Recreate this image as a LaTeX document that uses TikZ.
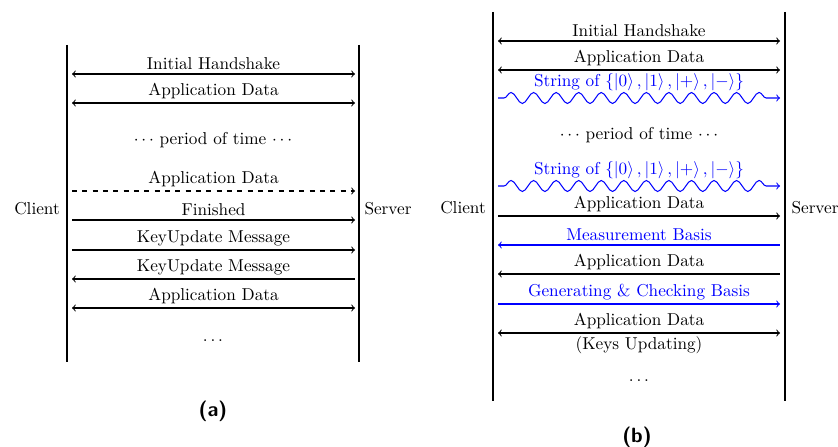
\documentclass[tikz,border=0pt]{standalone}
\usetikzlibrary{decorations.pathmorphing}
\begin{document}
\begin{tikzpicture}[x=0.581pt,y=-0.581pt,
  life/.style={line width=0.9pt},
  msg/.style={line width=0.6pt},
  qmsg/.style={line width=0.6pt,blue,decorate,decoration={snake,amplitude=3.2pt,segment length=13.1pt,pre length=3.5pt,post length=6.3pt}},
  lbl/.style={font=\normalsize,inner sep=2pt},
  captxt/.style={font=\fontsize{12}{14}\selectfont\sffamily\bfseries}]
\useasboundingbox (0,0) rectangle (838,447);
% ---------- panel (a) ----------
\coordinate (aLt) at (67,45); \coordinate (aLb) at (67,362);
\coordinate (aRt) at (359,45); \coordinate (aRb) at (359,362);
\draw[life] (aLt) -- (aLb);
\draw[life] (aRt) -- (aRb);
\node (aclient) at (37,209) {Client};
\node (aserver) at (388,209) {Server};
\foreach \n/\y in {1/74,2/103,3/191,4/220,5/250,6/279,7/308}{
  \coordinate (al\n) at (72,\y); \coordinate (ar\n) at (355,\y);}
\draw[msg,<->] (al1) -- node[lbl,above] (ta1) {Initial Handshake} (ar1);
\draw[msg,<->] (al2) -- node[lbl,above] (ta2) {Application Data} (ar2);
\node (ta0) at (213,140) {$\cdots$ period of time $\cdots$};
\draw[msg,->,dashed] (al3) -- node[lbl,above] (ta3) {Application Data} (ar3);
\draw[msg,->] (al4) -- node[lbl,above] (ta4) {Finished} (ar4);
\draw[msg,->] (al5) -- node[lbl,above] (ta5) {KeyUpdate Message} (ar5);
\draw[msg,<-] (al6) -- node[lbl,above] (ta6) {KeyUpdate Message} (ar6);
\draw[msg,<->] (al7) -- node[lbl,above] (ta7) {Application Data} (ar7);
\node (tadots) at (213,341) {$\dots$};
\node[captxt] (capa) at (213,411) {(a)};
% ---------- panel (b) ----------
\coordinate (bLt) at (493,12); \coordinate (bLb) at (493,401);
\coordinate (bRt) at (785,12); \coordinate (bRb) at (785,401);
\draw[life] (bLt) -- (bLb);
\draw[life] (bRt) -- (bRb);
\node (bclient) at (463,208) {Client};
\node (bserver) at (815,208) {Server};
\foreach \n/\y in {1/41,2/70,3/98,4/186,5/216,6/245,7/274,8/304,9/333}{
  \coordinate (bl\n) at (498,\y); \coordinate (br\n) at (780,\y);}
\draw[msg,<->] (bl1) -- node[lbl,above] (tb1) {Initial Handshake} (br1);
\draw[msg,<->] (bl2) -- node[lbl,above] (tb2) {Application Data} (br2);
\draw[qmsg,->] (bl3) -- (br3);
\node[lbl,blue,anchor=south] (tb3) at (639,95) {String of $\{\left|0\right\rangle,\left|1\right\rangle,\left|+\right\rangle,\left|-\right\rangle\}$};
\node (tb0) at (639,135) {$\cdots$ period of time $\cdots$};
\draw[qmsg,->] (bl4) -- (br4);
\node[lbl,blue,anchor=south] (tb4) at (639,183) {String of $\{\left|0\right\rangle,\left|1\right\rangle,\left|+\right\rangle,\left|-\right\rangle\}$};
\draw[msg,->] (bl5) -- node[lbl,above] (tb5) {Application Data} (br5);
\draw[msg,blue,<-] (bl6) -- node[lbl,above] (tb6) {Measurement Basis} (br6);
\draw[msg,<-] (bl7) -- node[lbl,above] (tb7) {Application Data} (br7);
\draw[msg,blue,->] (bl8) -- node[lbl,above] (tb8) {Generating \& Checking Basis} (br8);
\draw[msg,<->] (bl9) -- node[lbl,above] (tb9) {Application Data} node[lbl,below] (tb10) {(Keys Updating)} (br9);
\node (tbdots) at (639,381) {$\dots$};
\node[captxt] (capb) at (637,437) {(b)};
\end{tikzpicture}
\end{document}
